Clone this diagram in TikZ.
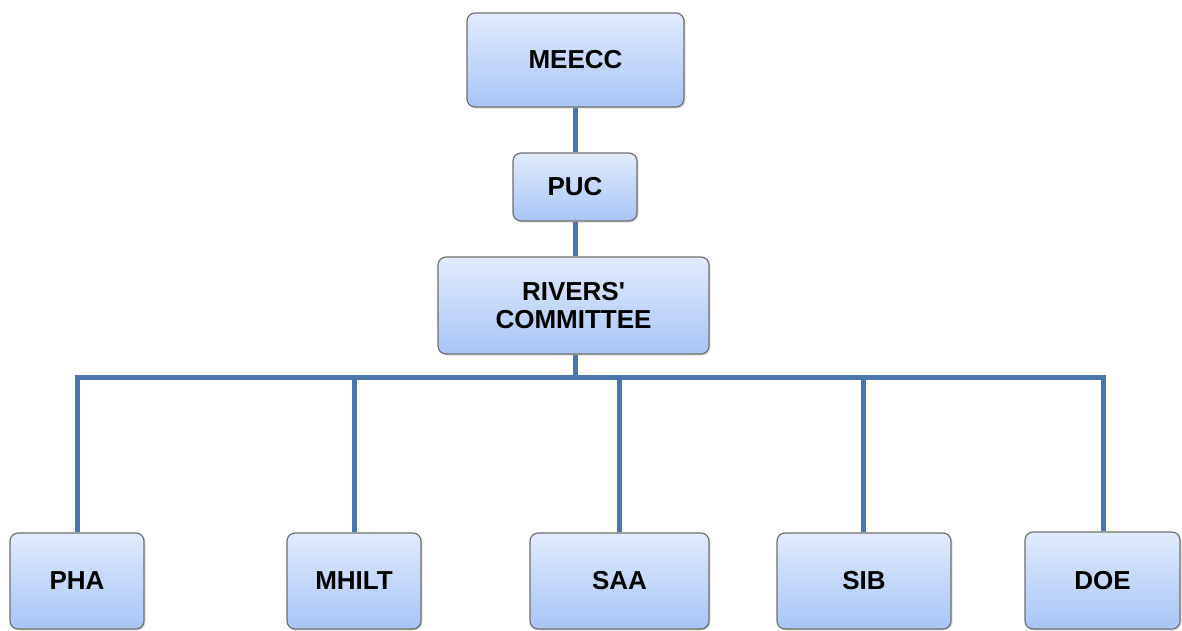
\documentclass[tikz,border=0pt]{standalone}
\usepackage{fontspec}
\setmainfont{Liberation Sans}[Ligatures=TeXOff]
\usetikzlibrary{shadows}
\definecolor{boxtop}{HTML}{E1EBFC}
\definecolor{boxbot}{HTML}{A8C5F7}
\definecolor{boxedge}{HTML}{6E6E6E}
\definecolor{linec}{HTML}{4A76AC}
\tikzset{
  orgbox/.style={draw=boxedge, line width=1.2pt, rounded corners=8pt,
    top color=boxtop, bottom color=boxbot, align=center,
    font=\fontsize{26}{28}\selectfont\bfseries, inner sep=0pt,
    drop shadow={shadow xshift=1.5pt, shadow yshift=-1.5pt, opacity=0.25}},
  conn/.style={draw=linec, line width=5pt}
}
\begin{document}
\begin{tikzpicture}[x=1pt,y=-1pt]
\useasboundingbox (0,0) rectangle (1182,630);
\clip (0,0) rectangle (1182,630);
% boxes
\node[orgbox, minimum width=217pt, minimum height=94pt] (meecc) at (575.5,60) {MEECC};
\node[orgbox, minimum width=124pt, minimum height=68pt] (puc) at (575,187) {PUC};
\node[orgbox, minimum width=271pt, minimum height=97pt] (rivers) at (573.5,305.5) {RIVERS'\\COMMITTEE};
\node[orgbox, minimum width=134pt, minimum height=96pt] (pha) at (77,581) {PHA};
\node[orgbox, minimum width=134pt, minimum height=96pt] (mhilt) at (354,581) {MHILT};
\node[orgbox, minimum width=179pt, minimum height=96pt] (saa) at (619.5,581) {SAA};
\node[orgbox, minimum width=174pt, minimum height=96pt] (sib) at (864,581) {SIB};
\node[orgbox, minimum width=155pt, minimum height=97pt] (doe) at (1102.5,580.5) {DOE};
% connectors
\coordinate (busL) at (77,377);
\coordinate (busR) at (1103,377);
\coordinate (busM) at (575,377);
\draw[conn] (meecc.south -| puc.south) -- (puc.north);
\draw[conn] (puc.south) -- (rivers.north -| puc.south);
\draw[conn] (rivers.south -| puc.south) -- (busM);
\draw[conn, line join=miter] (pha.north) -- (busL) -- (busR) -- (doe.north -| busR);
\draw[conn] (mhilt.north) -- (mhilt.north |- busL);
\draw[conn] (saa.north) -- (saa.north |- busL);
\draw[conn] (sib.north -| 863,0) -- (863,377);
\end{tikzpicture}
\end{document}
